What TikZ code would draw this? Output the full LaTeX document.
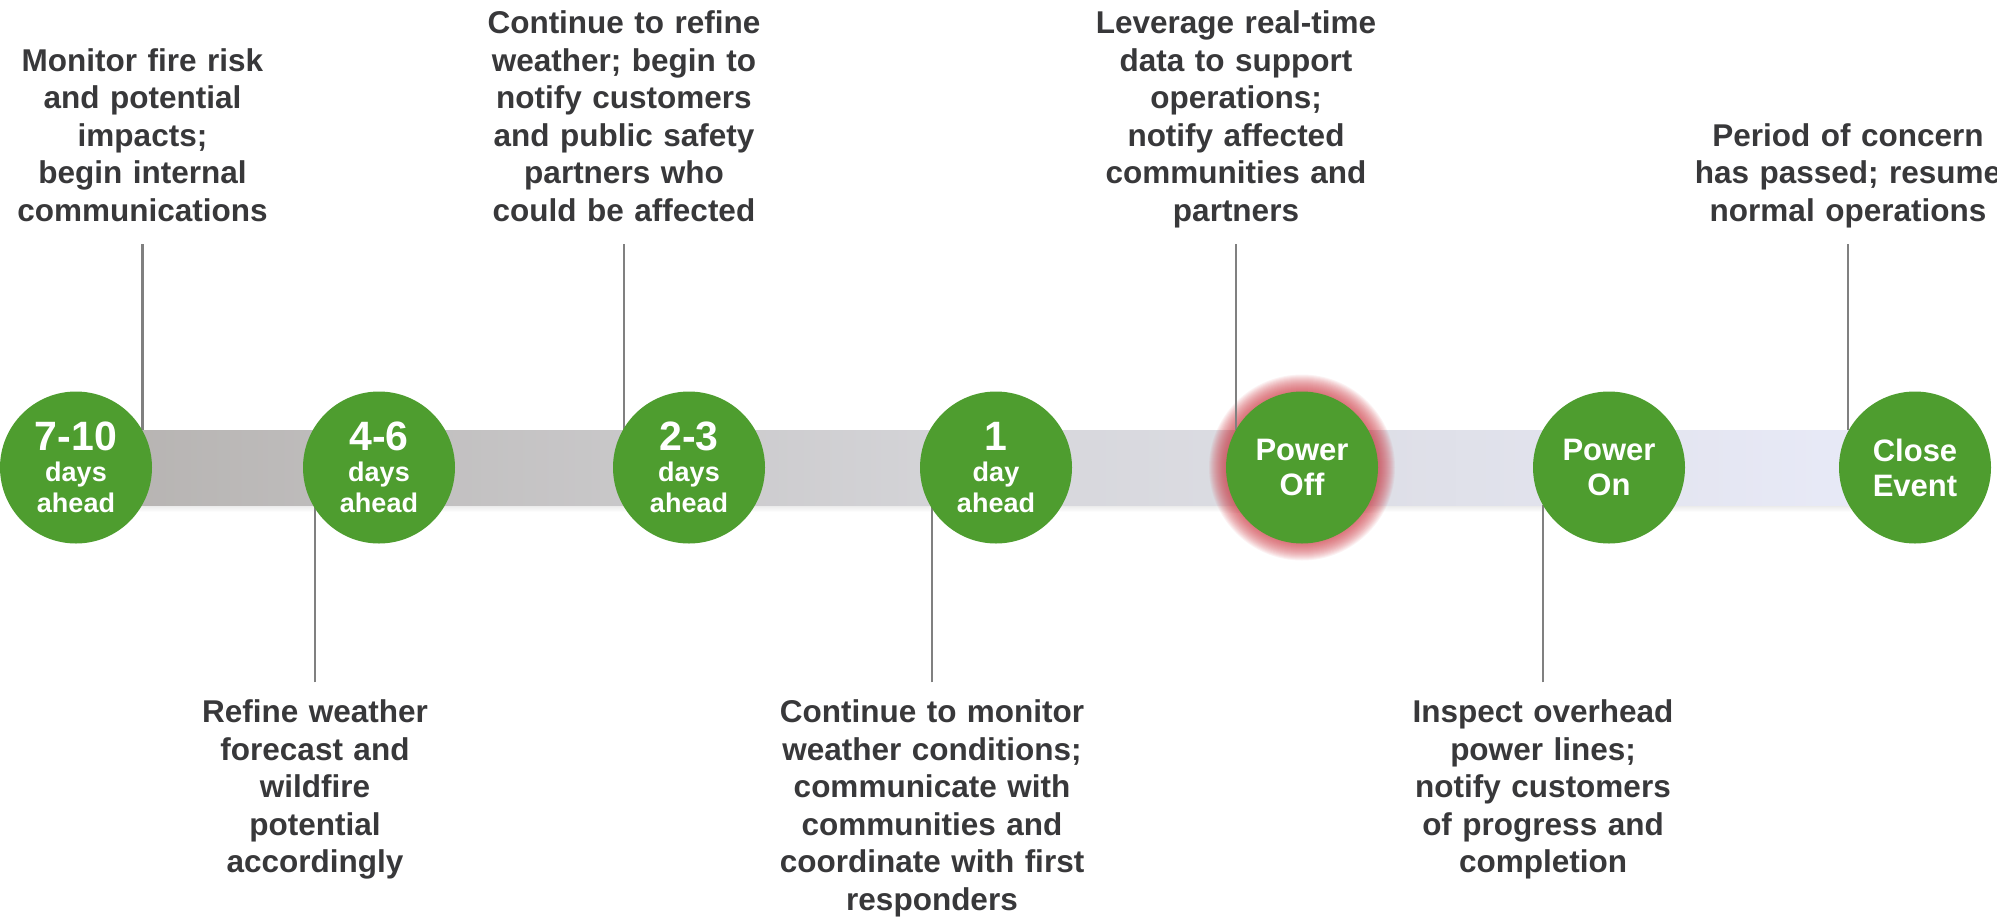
\documentclass[tikz,border=0pt]{standalone}
\usepackage{fontspec}
\setmainfont{Liberation Sans}
\definecolor{stagegreen}{RGB}{78,157,47}
\definecolor{txtgray}{RGB}{56,56,58}
\definecolor{linegray}{RGB}{128,128,128}
\definecolor{barleft}{RGB}{181,178,176}
\definecolor{barmid}{RGB}{214,214,218}
\definecolor{barright}{RGB}{233,235,249}
\definecolor{glowred}{RGB}{205,60,70}
\tikzset{
  stage/.style={circle, fill=stagegreen, minimum size=152pt, inner sep=0pt,
    text=white, text width=100pt, align=center,
    font=\fontsize{27}{31}\selectfont\bfseries},
  stagebig/.style={stage, font=\fontsize{31}{35}\selectfont\bfseries},
  desc/.style={text=txtgray, text width=380pt, align=center, inner sep=0pt,
    font=\fontsize{31.5}{37.5}\selectfont\bfseries},
  conn/.style={draw=linegray, line width=2.4pt},
  timebar/.style={minimum width=1839pt, minimum height=75pt, inner sep=0pt,
    left color=barleft, right color=barright, middle color=barmid},
}
\begin{document}
\begin{tikzpicture}[x=1pt,y=-1pt]
\useasboundingbox (0,0) rectangle (1997,916);
% bar and its soft shadow
\fill[top color=black!9, bottom color=white] (76,505) rectangle (1915,512);
\node[timebar] (bar) at (995.5,467.5) {};
% glow around Power Off
\coordinate (p5) at (1302,467.5);
\foreach \r in {77,...,93} \fill[glowred, opacity=0.065] (p5) circle (\r pt);
% descriptions
\node[desc, anchor=base] (t1) at (142.5,71) {Monitor fire risk\\and potential\\impacts;\\begin internal\\communications\strut};
\node[desc, anchor=base] (t3) at (624,33.5) {Continue to refine\\weather; begin to\\notify customers\\and public safety\\partners who\\could be affected\strut};
\node[desc, anchor=base] (t5) at (1236,33.5) {Leverage real-time\\data to support\\operations;\\notify affected\\communities and\\partners\strut};
\node[desc, anchor=base] (t7) at (1848,146) {Period of concern\\has passed; resume\\normal operations\strut};
\node[desc, anchor=base] (t2) at (315,722.5) {\strut Refine weather\\forecast and\\wildfire\\potential\\accordingly};
\node[desc, anchor=base] (t4) at (932,722.5) {\strut Continue to monitor\\weather conditions;\\communicate with\\communities and\\coordinate with first\\responders};
\node[desc, anchor=base] (t6) at (1543,722.5) {\strut Inspect overhead\\power lines;\\notify customers\\of progress and\\completion};
% connectors
\foreach \t in {t1,t3,t5,t7} \draw[conn, shorten <=11.7pt] (\t.south) -- (\t.south |- bar.north);
\foreach \t in {t2,t4,t6} \draw[conn, shorten <=13.7pt] (\t.north) -- (\t.north |- bar.south);
% stages
\node[stage] (c1) at (76,467.5) {{\fontsize{41}{31}\selectfont 7-10}\\days\\ahead};
\node[stage] (c2) at (379,467.5) {{\fontsize{41}{31}\selectfont 4-6}\\days\\ahead};
\node[stage] (c3) at (689,467.5) {{\fontsize{41}{31}\selectfont 2-3}\\days\\ahead};
\node[stage] (c4) at (996,467.5) {{\fontsize{41}{31}\selectfont 1}\\day\\ahead};
\node[stagebig] (c5) at (p5) {Power\\Off};
\node[stagebig] (c6) at (1609,467.5) {Power\\On};
\node[stagebig] (c7) at (1915,467.5) {Close\\Event};
\end{tikzpicture}
\end{document}
